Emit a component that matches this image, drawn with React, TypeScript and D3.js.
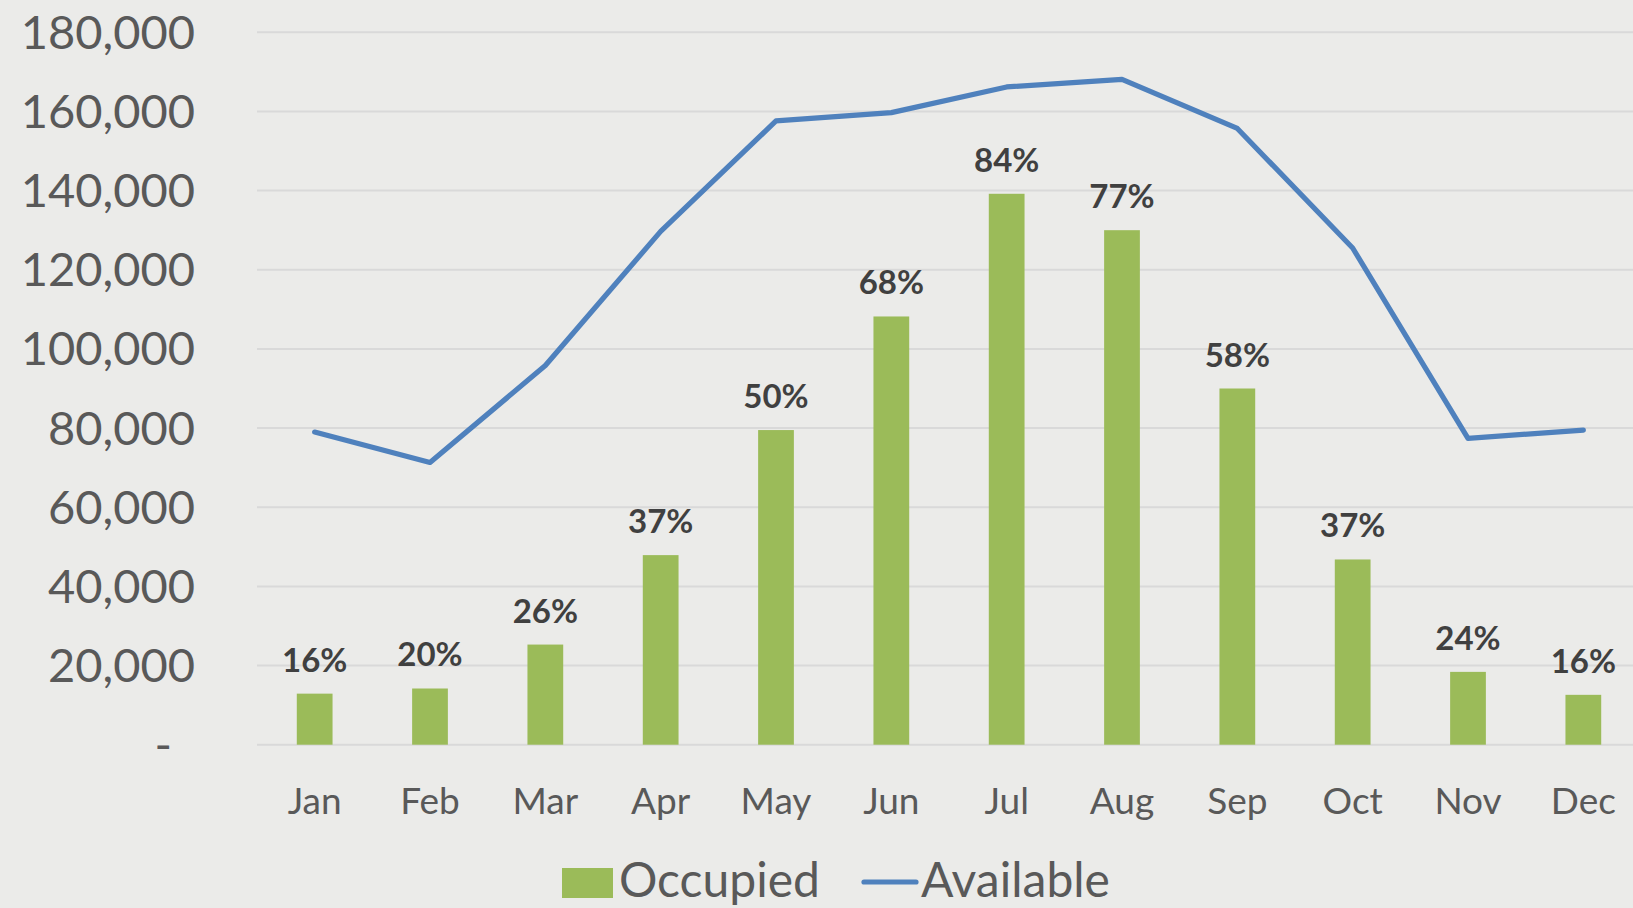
import * as d3 from "d3";
import { useEffect, useRef } from "react";

const months = ["Jan", "Feb", "Mar", "Apr", "May", "Jun", "Jul", "Aug", "Sep", "Oct", "Nov", "Dec"];
const occupied = [12900, 14200, 25300, 47900, 79500, 108200, 139200, 130000, 90000, 46800, 18400, 12600];
const available = [79000, 71300, 95800, 129700, 157600, 159700, 166200, 168100, 155700, 125500, 77400, 79500];
const pctLabels = ["16%", "20%", "26%", "37%", "50%", "68%", "84%", "77%", "58%", "37%", "24%", "16%"];
const yTicks = [0, 20000, 40000, 60000, 80000, 100000, 120000, 140000, 160000, 180000];

const App = () => {
  const ref = useRef<SVGSVGElement>(null);

  useEffect(() => {
    const width = 1633;
    const height = 908;
    const font = "Lato, 'Open Sans', sans-serif";

    const svg = d3.select(ref.current).attr("width", width).attr("height", height).html("");

    svg.append("rect").attr("width", width).attr("height", height).attr("fill", "#ebebe9");

    const x = d3.scaleBand<string>().domain(months).range([257, 1641]).paddingInner(0.69).paddingOuter(0.345);
    const y = d3.scaleLinear().domain([0, 180000]).range([744.7, 32.3]);

    // gridlines
    svg
      .append("g")
      .selectAll("line")
      .data(yTicks)
      .enter()
      .append("line")
      .attr("x1", 257)
      .attr("x2", width)
      .attr("y1", (d) => y(d))
      .attr("y2", (d) => y(d))
      .attr("stroke", "#d9d9d9")
      .attr("stroke-width", 2);

    // y tick labels
    svg
      .append("g")
      .selectAll("text")
      .data(yTicks)
      .enter()
      .append("text")
      .attr("x", (d) => (d === 0 ? 172 : 195))
      .attr("y", (d) => y(d))
      .attr("dy", "0.35em")
      .attr("text-anchor", "end")
      .style("font-family", font)
      .style("font-size", "47px")
      .style("fill", "#595959")
      .text((d) => (d === 0 ? "-" : d3.format(",")(d)));

    // bars
    svg
      .append("g")
      .selectAll("rect")
      .data(occupied)
      .enter()
      .append("rect")
      .attr("x", (_, i) => x(months[i])!)
      .attr("width", x.bandwidth())
      .attr("y", (d) => y(d))
      .attr("height", (d) => y(0) - y(d))
      .attr("fill", "#9bbb59");

    // line
    const line = d3
      .line<number>()
      .x((_, i) => x(months[i])! + x.bandwidth() / 2)
      .y((d) => y(d));

    svg
      .append("path")
      .datum(available)
      .attr("d", line)
      .attr("fill", "none")
      .attr("stroke", "#4f81bd")
      .attr("stroke-width", 5.2)
      .attr("stroke-linejoin", "round")
      .attr("stroke-linecap", "round");

    // data labels
    svg
      .append("g")
      .selectAll("text")
      .data(occupied)
      .enter()
      .append("text")
      .attr("x", (_, i) => x(months[i])! + x.bandwidth() / 2)
      .attr("y", (d) => y(d) - 22)
      .attr("text-anchor", "middle")
      .style("font-family", font)
      .style("font-size", "33px")
      .style("font-weight", "700")
      .style("fill", "#404040")
      .text((_, i) => pctLabels[i]);

    // x labels
    svg
      .append("g")
      .selectAll("text")
      .data(months)
      .enter()
      .append("text")
      .attr("x", (d) => x(d)! + x.bandwidth() / 2)
      .attr("y", 814)
      .attr("text-anchor", "middle")
      .style("font-family", font)
      .style("font-size", "37px")
      .style("fill", "#595959")
      .text((d) => d);

    // legend
    const legend = svg.append("g");
    legend.append("rect").attr("x", 562).attr("y", 868).attr("width", 51).attr("height", 30).attr("fill", "#9bbb59");
    legend
      .append("text")
      .attr("x", 619)
      .attr("y", 897)
      .style("font-family", font)
      .style("font-size", "48px")
      .style("fill", "#595959")
      .text("Occupied");
    legend
      .append("line")
      .attr("x1", 864)
      .attr("x2", 916)
      .attr("y1", 882)
      .attr("y2", 882)
      .attr("stroke", "#4f81bd")
      .attr("stroke-width", 5.2)
      .attr("stroke-linecap", "round");
    legend
      .append("text")
      .attr("x", 921)
      .attr("y", 897)
      .style("font-family", font)
      .style("font-size", "48px")
      .style("fill", "#595959")
      .text("Available");
  }, []);

  return <svg ref={ref} style={{ position: "absolute", left: 0, top: 0, display: "block" }}></svg>;
};

export default App;
